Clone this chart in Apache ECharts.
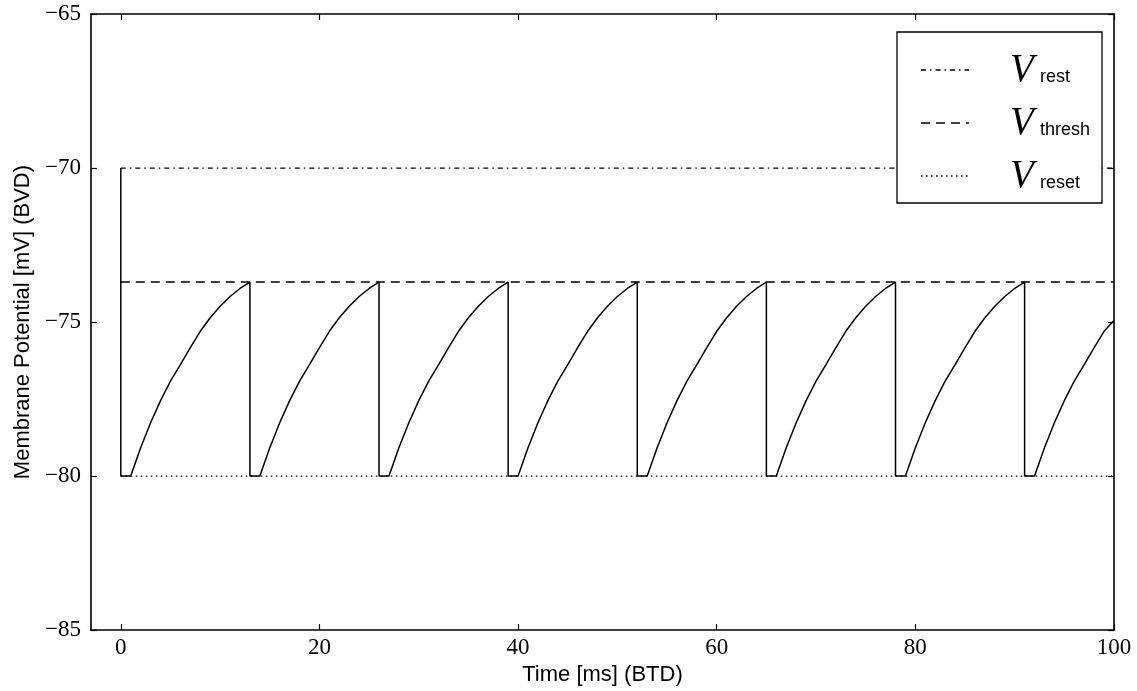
<!DOCTYPE html>
<html>
<head>
<meta charset="utf-8">
<script src="https://cdn.jsdelivr.net/npm/echarts@6/dist/echarts.min.js"></script>
<style>
html,body{margin:0;padding:0;background:#fff;}
#chart{width:1137px;height:691px;}
</style>
</head>
<body>
<div id="chart"></div>
<script>
// ---- data ----
const timeMs = [
  0,
  0, 1, 2, 3, 4, 5, 6, 7, 8, 9, 10, 11, 12, 13,
  13, 14, 15, 16, 17, 18, 19, 20, 21, 22, 23, 24, 25, 26,
  26, 27, 28, 29, 30, 31, 32, 33, 34, 35, 36, 37, 38, 39,
  39, 40, 41, 42, 43, 44, 45, 46, 47, 48, 49, 50, 51, 52,
  52, 53, 54, 55, 56, 57, 58, 59, 60, 61, 62, 63, 64, 65,
  65, 66, 67, 68, 69, 70, 71, 72, 73, 74, 75, 76, 77, 78,
  78, 79, 80, 81, 82, 83, 84, 85, 86, 87, 88, 89, 90, 91,
  91, 92, 93, 94, 95, 96, 97, 98, 99, 100
];
const membraneMv = [
  -70,
  -80, -80, -79.08, -78.27, -77.55, -76.92, -76.38, -75.83, -75.30, -74.86, -74.49, -74.17, -73.91, -73.70,
  -80, -80, -79.08, -78.27, -77.55, -76.92, -76.38, -75.83, -75.30, -74.86, -74.49, -74.17, -73.91, -73.70,
  -80, -80, -79.08, -78.27, -77.55, -76.92, -76.38, -75.83, -75.30, -74.86, -74.49, -74.17, -73.91, -73.70,
  -80, -80, -79.08, -78.27, -77.55, -76.92, -76.38, -75.83, -75.30, -74.86, -74.49, -74.17, -73.91, -73.70,
  -80, -80, -79.08, -78.27, -77.55, -76.92, -76.38, -75.83, -75.30, -74.86, -74.49, -74.17, -73.91, -73.70,
  -80, -80, -79.08, -78.27, -77.55, -76.92, -76.38, -75.83, -75.30, -74.86, -74.49, -74.17, -73.91, -73.70,
  -80, -80, -79.08, -78.27, -77.55, -76.92, -76.38, -75.83, -75.30, -74.86, -74.49, -74.17, -73.91, -73.70,
  -80, -80, -79.08, -78.27, -77.55, -76.92, -76.38, -75.83, -75.30, -74.95
];
const vRest = -70;
const vThresh = -73.7;
const vReset = -80;
const refSpanMs = [0, 100];
const xTickValues = [0, 20, 40, 60, 80, 100];
const legendNames = ['rest', 'thresh', 'reset'];

// ---- styles ----
const BLACK = '#000';
const DASHDOT = [5, 4, 1.5, 4];
const DASHED = [9, 6];
const DOTTED = [1.5, 3.5];
const tickFont = {color: BLACK, fontFamily: 'Liberation Serif', fontSize: 23};

const tracePairs = timeMs.map((t, i) => [t, membraneMv[i]]);
const refLine = v => refSpanMs.map(t => [t, v]);
const minusFmt = v => (v < 0 ? '\u2212' + Math.abs(v) : String(v));

const chart = echarts.init(document.getElementById('chart'), null, {renderer: 'canvas'});

const xBase = {
  type: 'value', min: -3, max: 100,
  splitLine: {show: false},
  axisLine: {show: true, onZero: false, lineStyle: {color: BLACK, width: 1.6}},
  axisTick: {show: true, inside: true, length: 6, customValues: xTickValues, lineStyle: {color: BLACK, width: 1.2}}
};
const yBase = {
  type: 'value', min: -85, max: -65, interval: 5,
  splitLine: {show: false},
  axisLine: {show: true, onZero: false, lineStyle: {color: BLACK, width: 1.6}},
  axisTick: {show: true, inside: true, length: 6, lineStyle: {color: BLACK, width: 1.2}}
};

const legendRows = [
  {name: legendNames[0], dash: DASHDOT, y: 70},
  {name: legendNames[1], dash: DASHED, y: 123},
  {name: legendNames[2], dash: DOTTED, y: 176}
];
const legendElems = [{
  type: 'rect', z: 100,
  shape: {x: 897, y: 32, width: 205, height: 171},
  style: {fill: '#fff', stroke: BLACK, lineWidth: 1.3}
}];
legendRows.forEach(r => {
  legendElems.push({
    type: 'line', z: 101,
    shape: {x1: 921, y1: r.y, x2: 969, y2: r.y},
    style: {stroke: BLACK, lineWidth: 1.3, lineDash: r.dash}
  });
  legendElems.push({
    type: 'text', z: 101, x: 1010, y: r.y + 1,
    style: {text: 'V', fill: BLACK, font: 'italic 39px "Liberation Serif"', align: 'left', verticalAlign: 'middle'}
  });
  legendElems.push({
    type: 'text', z: 101, x: 1040, y: r.y + 7,
    style: {text: r.name, fill: BLACK, font: '18px "Liberation Sans"', align: 'left', verticalAlign: 'middle'}
  });
});

chart.setOption({
  animation: false,
  backgroundColor: '#fff',
  grid: {left: 91, right: 23, top: 14, bottom: 58, containLabel: false},
  xAxis: [
    Object.assign({}, xBase, {
      position: 'bottom',
      name: 'Time [ms] (BTD)', nameLocation: 'middle', nameGap: 31,
      nameTextStyle: {color: BLACK, fontFamily: 'Liberation Sans', fontSize: 22},
      axisLabel: {show: true, margin: 6, customValues: xTickValues, formatter: minusFmt, ...tickFont}
    }),
    Object.assign({}, xBase, {position: 'top', axisLabel: {show: false}})
  ],
  yAxis: [
    Object.assign({}, yBase, {
      position: 'left',
      name: 'Membrane Potential [mV] (BVD)', nameLocation: 'middle', nameGap: 57, nameRotate: 90,
      nameTextStyle: {color: BLACK, fontFamily: 'Liberation Sans', fontSize: 22},
      axisLabel: {show: true, margin: 10, formatter: minusFmt, ...tickFont}
    }),
    Object.assign({}, yBase, {position: 'right', axisLabel: {show: false}})
  ],
  series: [
    {
      name: 'Membrane potential', type: 'line', data: tracePairs,
      showSymbol: false, symbol: 'none',
      lineStyle: {color: BLACK, width: 1.5}, z: 3
    },
    {
      name: 'V rest', type: 'line', data: refLine(vRest), symbol: 'none',
      lineStyle: {color: BLACK, width: 1.3, type: DASHDOT}, z: 2
    },
    {
      name: 'V thresh', type: 'line', data: refLine(vThresh), symbol: 'none',
      lineStyle: {color: BLACK, width: 1.3, type: DASHED}, z: 2
    },
    {
      name: 'V reset', type: 'line', data: refLine(vReset), symbol: 'none',
      lineStyle: {color: BLACK, width: 1.3, type: DOTTED}, z: 2
    }
  ],
  graphic: {elements: legendElems}
});
</script>
</body>
</html>
